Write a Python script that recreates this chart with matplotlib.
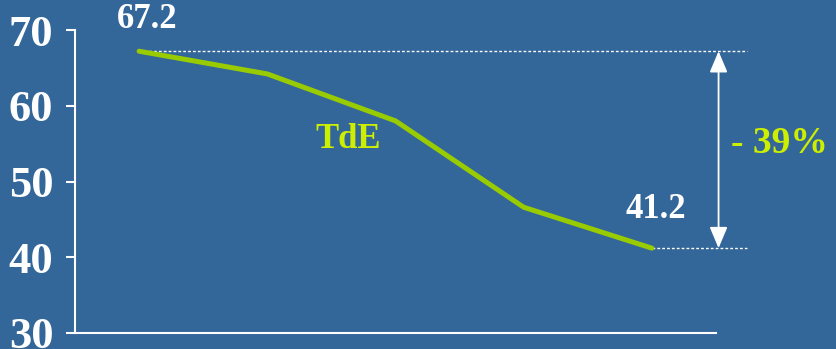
import matplotlib
matplotlib.use("Agg")
import matplotlib.pyplot as plt

# Series values
periods = [0, 1, 2, 3, 4]
tde = [67.2, 64.2, 58.0, 46.6, 41.2]
y_ticks = [30, 40, 50, 60, 70]
series_label = "TdE"
change_label = "- 39%"

bg = "#336699"
line_col = "#99cc00"
accent = "#ccee00"
white = "#ffffff"
font = "Liberation Serif"

fig = plt.figure(figsize=(8.36, 3.49), dpi=100, facecolor=bg)
ax = fig.add_axes([75 / 836, 16 / 349, 641 / 836, 303 / 349])
ax.set_facecolor(bg)

ax.plot(periods, tde, color=line_col, lw=3.6, solid_capstyle="round", zorder=3)

ax.set_xlim(-0.5, 4.5)
ax.set_ylim(30, 70)
ax.set_yticks(y_ticks)
ax.set_xticks([])
for s in ["top", "right"]:
    ax.spines[s].set_visible(False)
for s in ["left", "bottom"]:
    ax.spines[s].set_color(white)
    ax.spines[s].set_linewidth(1.5)
ax.tick_params(axis="y", colors=white, length=6.5, width=1.5, pad=9)
for lbl in ax.get_yticklabels():
    lbl.set_fontfamily(font)
    lbl.set_fontweight("bold")
    lbl.set_fontsize(32)
    lbl.set_color(white)

# Reference lines at start and end values
x_end = 4.74
ax.plot([periods[0], x_end], [tde[0], tde[0]], color=white, lw=1, ls=(0, (2, 1.5)),
        clip_on=False, zorder=2)
ax.plot([periods[-1], x_end], [tde[-1], tde[-1]], color=white, lw=1, ls=(0, (2, 1.5)),
        clip_on=False, zorder=2)

# Double-headed arrow showing the drop
ax.annotate("", xy=(4.52, tde[-1]), xytext=(4.52, tde[0]),
            arrowprops=dict(arrowstyle="<|-|>,head_length=1.3,head_width=0.55",
                            color=white, lw=1.3, shrinkA=0, shrinkB=0),
            annotation_clip=False)

# Value labels
ax.text(periods[0] + 0.06, tde[0] + 2.0, f"{tde[0]:.1f}", color=white, fontsize=25,
        fontweight="bold", fontfamily=font, ha="center", va="bottom")
ax.text(periods[-1] + 0.03, tde[-1] + 2.9, f"{tde[-1]:.1f}", color=white, fontsize=25,
        fontweight="bold", fontfamily=font, ha="center", va="bottom")

ax.text(1.63, 55.6, series_label, color=accent, fontsize=25, fontweight="bold",
        fontfamily=font, ha="center", va="center")
fig.text(731 / 836, 1 - 143 / 349, change_label, color=accent, fontsize=27,
         fontweight="bold", fontfamily=font, ha="left", va="center")

fig.savefig("out.png", dpi=100, facecolor=bg)
